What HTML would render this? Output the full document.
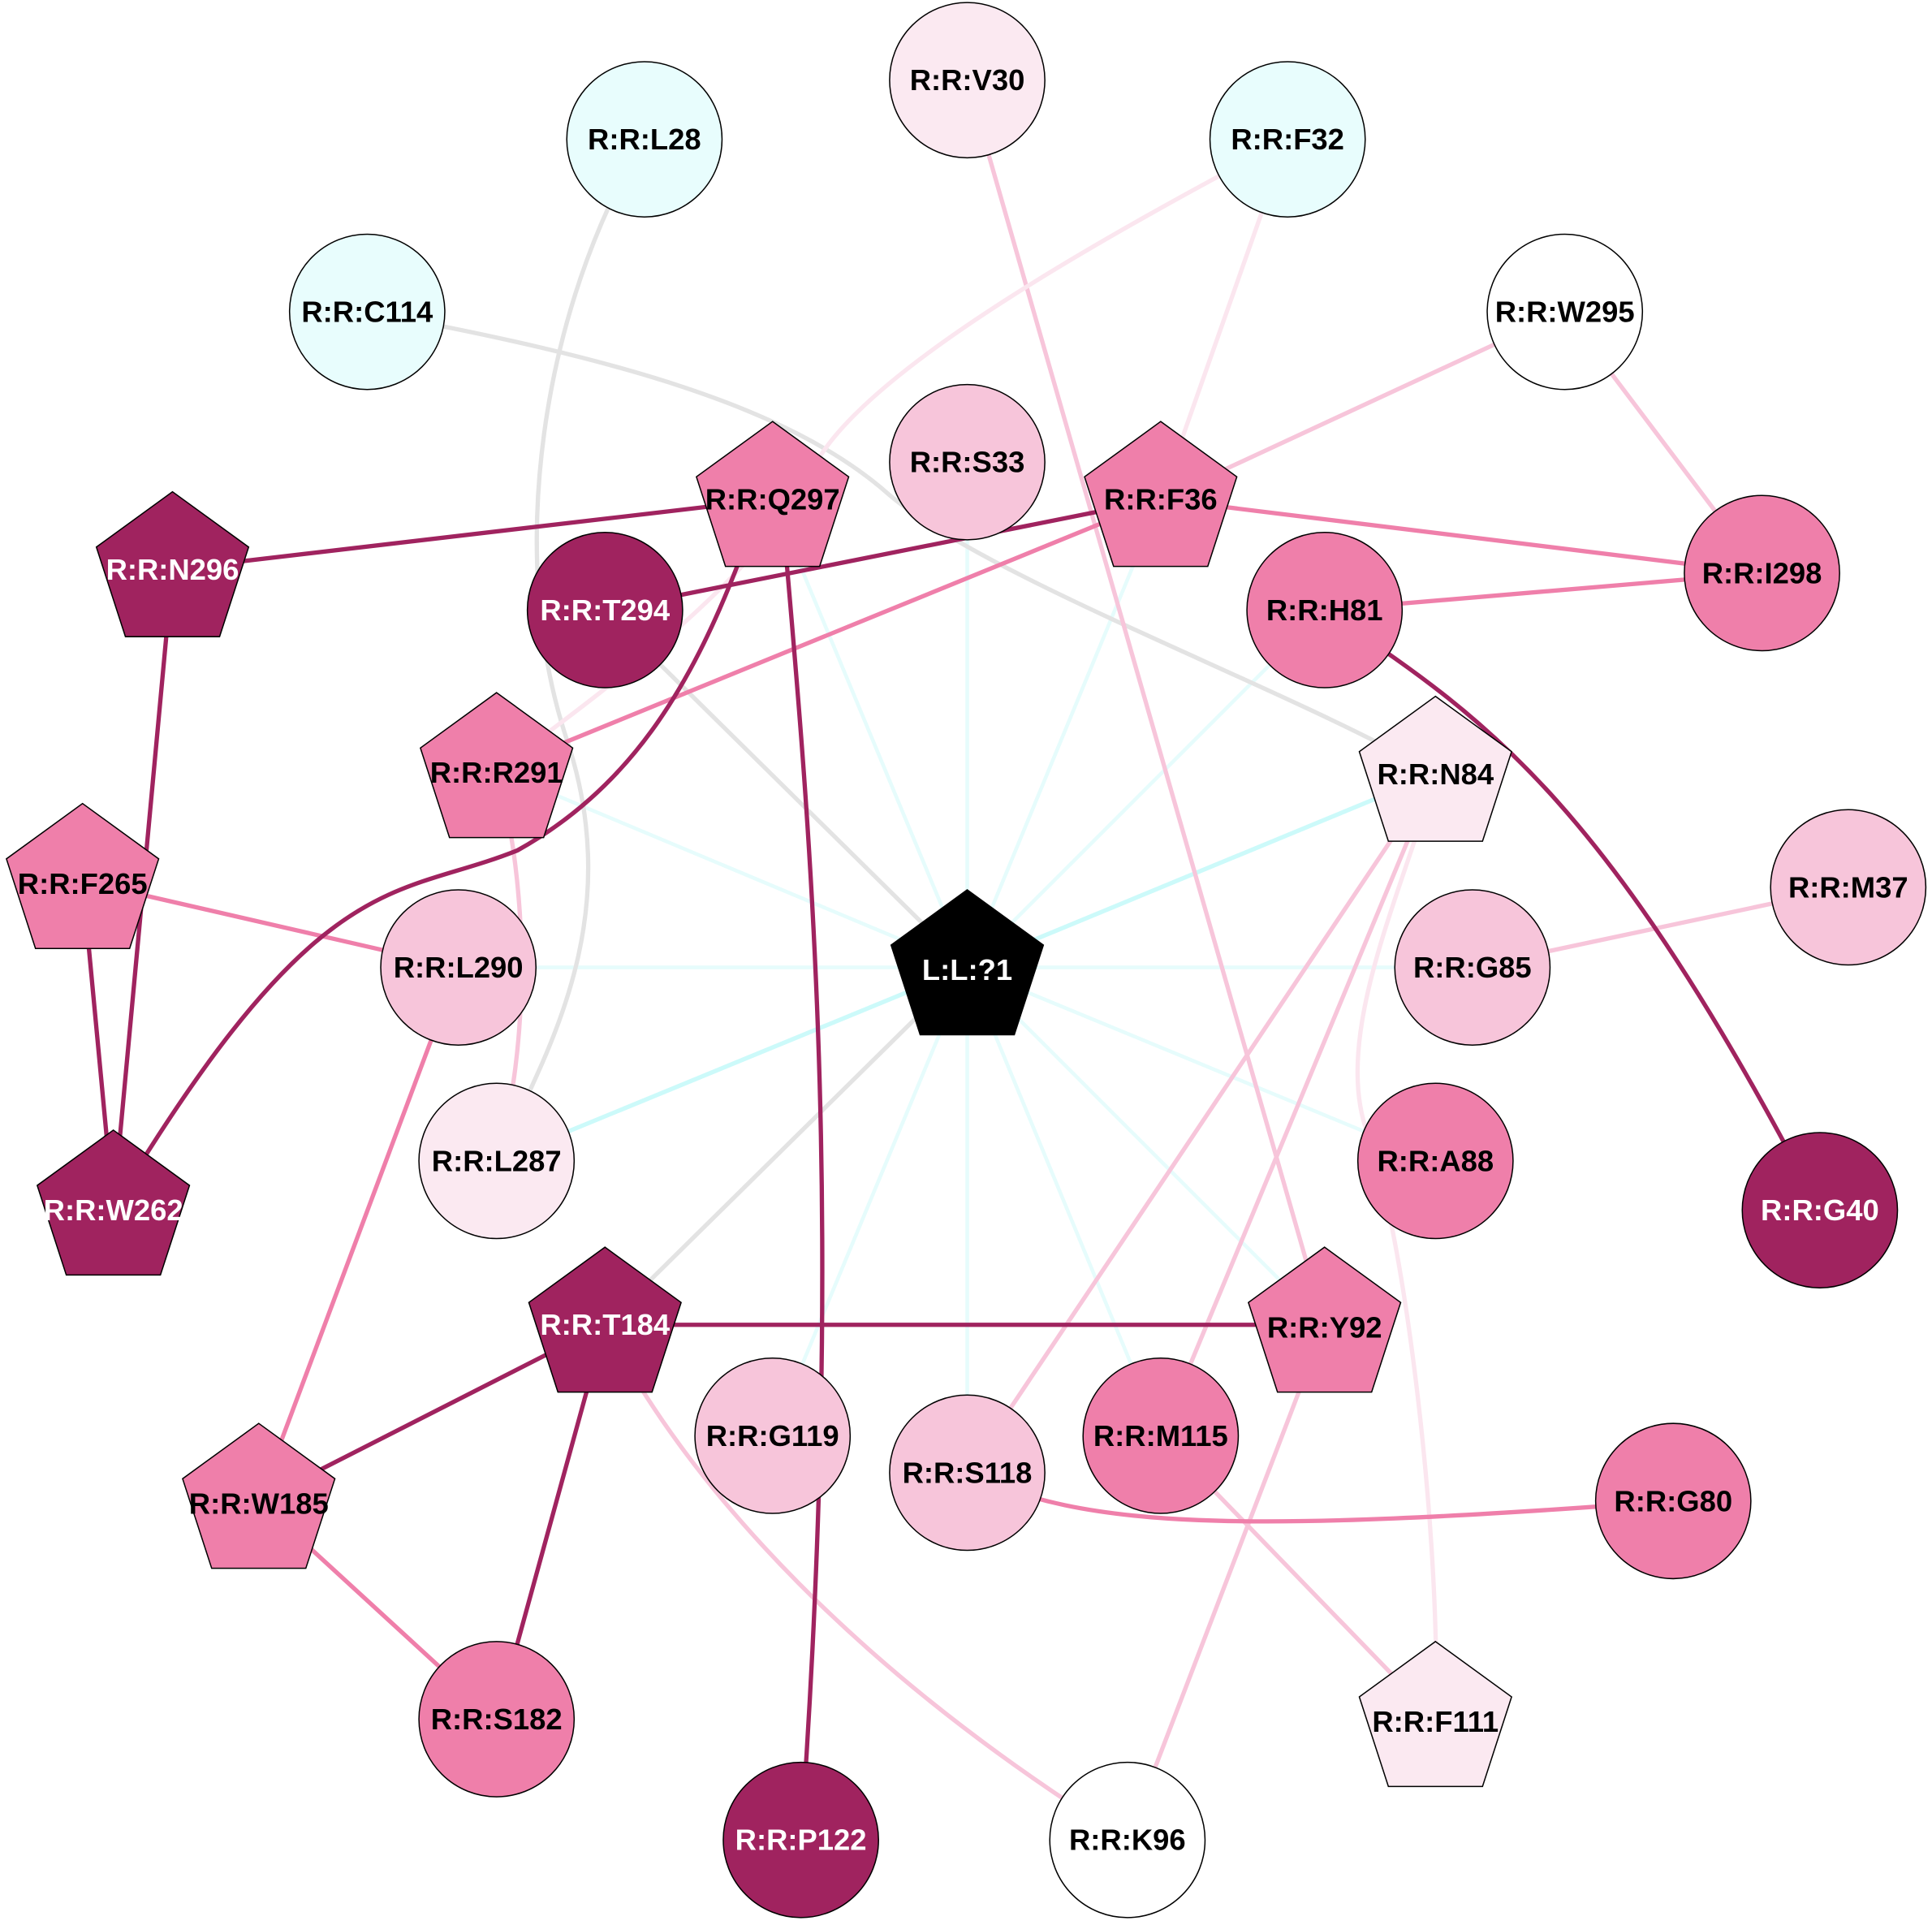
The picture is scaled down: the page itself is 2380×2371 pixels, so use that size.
<!DOCTYPE html>
<html><head><meta charset="utf-8"><style>
html,body{margin:0;padding:0;background:#fff;}
svg{display:block;}
text{font-family:"Liberation Sans",Arial,sans-serif;font-weight:bold;font-size:24px;text-anchor:middle;dominant-baseline:central;}
</style></head><body>
<svg width="2380" height="2371" viewBox="0 0 1568 1562" xmlns="http://www.w3.org/2000/svg">
<defs>
<polygon id="pg" points="0,-65 61.8,-20.1 38.2,52.6 -38.2,52.6 -61.8,-20.1"/>
</defs>
<g fill="none" stroke-width="3.5">
<g stroke="#e6fcfc" stroke-width="3">
<line x1="785" y1="785" x2="627" y2="405"/>
<line x1="785" y1="785" x2="942" y2="405"/>
<line x1="785" y1="785" x2="1075" y2="495"/>
<line x1="785" y1="785" x2="403" y2="625"/>
<line x1="785" y1="785" x2="372" y2="785"/>
<line x1="785" y1="785" x2="1195" y2="785"/>
<line x1="785" y1="785" x2="1165" y2="942"/>
<line x1="785" y1="785" x2="1075" y2="1075"/>
<line x1="785" y1="785" x2="627" y2="1165"/>
<line x1="785" y1="785" x2="785" y2="1195"/>
<line x1="785" y1="785" x2="942" y2="1165"/>
<line x1="785" y1="785" x2="785" y2="375"/>
</g>
<line x1="785" y1="785" x2="1165" y2="628" stroke="#ccfafa"/>
<line x1="785" y1="785" x2="403" y2="942" stroke="#ccfafa"/>
<line x1="785" y1="785" x2="491" y2="495" stroke="#e3e3e3"/>
<line x1="785" y1="785" x2="491" y2="1075" stroke="#e3e3e3"/>
<path d="M298,253 C500,290 640,330 720,400 S1050,560 1165,628" stroke="#e3e3e3"/>
<path d="M523,113 C440,250 410,450 460,600 S440,860 403,942" stroke="#e3e3e3"/>
<line x1="785" y1="65" x2="1075" y2="1075" stroke="#f7c5da"/>
<path d="M1045,113 C900,190 700,300 660,380 S520,540 403,625" stroke="#fbe6ef"/>
<line x1="1045" y1="113" x2="942" y2="405" stroke="#fbe6ef"/>
<line x1="1270" y1="253" x2="942" y2="405" stroke="#f7c5da"/>
<line x1="1270" y1="253" x2="1430" y2="465" stroke="#f7c5da"/>
<path d="M403,625 C430,720 430,850 403,942" stroke="#f7c5da"/>
<line x1="1165" y1="628" x2="785" y2="1195" stroke="#f7c5da"/>
<line x1="1165" y1="628" x2="942" y2="1165" stroke="#f7c5da"/>
<path d="M1165,628 C1140,720 1080,840 1110,920 S1170,1250 1165,1395" stroke="#fbe6ef"/>
<line x1="1500" y1="720" x2="1195" y2="785" stroke="#f7c5da"/>
<path d="M491,1075 C560,1210 700,1360 915,1493" stroke="#f7c5da"/>
<line x1="1075" y1="1075" x2="915" y2="1493" stroke="#f7c5da"/>
<line x1="942" y1="1165" x2="1165" y2="1395" stroke="#f7c5da"/>
<line x1="942" y1="405" x2="1430" y2="465" stroke="#ef7faa"/>
<line x1="1075" y1="495" x2="1430" y2="465" stroke="#ef7faa"/>
<line x1="942" y1="405" x2="403" y2="625" stroke="#ef7faa"/>
<line x1="67" y1="715" x2="372" y2="785" stroke="#ef7faa"/>
<line x1="372" y1="785" x2="210" y2="1218" stroke="#ef7faa"/>
<path d="M785,1195 C880,1240 1000,1245 1358,1218" stroke="#ef7faa"/>
<line x1="210" y1="1218" x2="403" y2="1395" stroke="#ef7faa"/>
<g stroke="#a0235f">
<path d="M1075,495 C1200,580 1300,640 1477,982"/>
<line x1="627" y1="405" x2="140" y2="462"/>
<line x1="942" y1="405" x2="491" y2="495"/>
<path d="M600,455 C560,560 510,640 420,690 C320,730 260,700 92,980"/>
<path d="M637,440 C660,700 685,1000 650,1493"/>
<line x1="140" y1="462" x2="92" y2="980"/>
<line x1="67" y1="715" x2="92" y2="980"/>
<line x1="491" y1="1075" x2="1075" y2="1075"/>
<line x1="491" y1="1075" x2="210" y2="1218"/>
<line x1="491" y1="1075" x2="403" y2="1395"/>
</g>
</g>
<g stroke="#000" stroke-width="1">
<circle cx="785" cy="65" r="63" fill="#fbe9f1"/>
<circle cx="523" cy="113" r="63" fill="#e8fdfd"/>
<circle cx="1045" cy="113" r="63" fill="#e8fdfd"/>
<circle cx="298" cy="253" r="63" fill="#e8fdfd"/>
<circle cx="1270" cy="253" r="63" fill="#fff"/>
<circle cx="785" cy="375" r="63" fill="#f7c5da"/>
<use href="#pg" x="627" y="407" fill="#ef7faa"/>
<use href="#pg" x="942" y="407" fill="#ef7faa"/>
<use href="#pg" x="140" y="464" fill="#a0235f"/>
<circle cx="491" cy="495" r="63" fill="#a0235f"/>
<circle cx="1075" cy="495" r="63" fill="#ef7faa"/>
<circle cx="1430" cy="465" r="63" fill="#ef7faa"/>
<use href="#pg" x="403" y="627" fill="#ef7faa"/>
<use href="#pg" x="1165" y="630" fill="#fbe9f1"/>
<use href="#pg" x="67" y="717" fill="#ef7faa"/>
<circle cx="1500" cy="720" r="63" fill="#f7c5da"/>
<circle cx="372" cy="785" r="63" fill="#f7c5da"/>
<use href="#pg" x="785" y="787" fill="#000"/>
<circle cx="1195" cy="785" r="63" fill="#f7c5da"/>
<circle cx="403" cy="942" r="63" fill="#fbe9f1"/>
<circle cx="1165" cy="942" r="63" fill="#ef7faa"/>
<use href="#pg" x="92" y="982" fill="#a0235f"/>
<circle cx="1477" cy="982" r="63" fill="#a0235f"/>
<use href="#pg" x="491" y="1077" fill="#a0235f"/>
<use href="#pg" x="1075" y="1077" fill="#ef7faa"/>
<circle cx="627" cy="1165" r="63" fill="#f7c5da"/>
<circle cx="785" cy="1195" r="63" fill="#f7c5da"/>
<circle cx="942" cy="1165" r="63" fill="#ef7faa"/>
<use href="#pg" x="210" y="1220" fill="#ef7faa"/>
<circle cx="1358" cy="1218" r="63" fill="#ef7faa"/>
<circle cx="403" cy="1395" r="63" fill="#ef7faa"/>
<use href="#pg" x="1165" y="1397" fill="#fbe9f1"/>
<circle cx="650" cy="1493" r="63" fill="#a0235f"/>
<circle cx="915" cy="1493" r="63" fill="#fff"/>
</g>
<g fill="#000">
<text x="785" y="65">R:R:V30</text>
<text x="523" y="113">R:R:L28</text>
<text x="1045" y="113">R:R:F32</text>
<text x="298" y="253">R:R:C114</text>
<text x="1270" y="253">R:R:W295</text>
<text x="785" y="375">R:R:S33</text>
<text x="627" y="405">R:R:Q297</text>
<text x="942" y="405">R:R:F36</text>
<text x="1075" y="495">R:R:H81</text>
<text x="1430" y="465">R:R:I298</text>
<text x="403" y="627">R:R:R291</text>
<text x="1165" y="628">R:R:N84</text>
<text x="67" y="717">R:R:F265</text>
<text x="1500" y="720">R:R:M37</text>
<text x="372" y="785">R:R:L290</text>
<text x="1195" y="785">R:R:G85</text>
<text x="403" y="942">R:R:L287</text>
<text x="1165" y="942">R:R:A88</text>
<text x="1075" y="1077">R:R:Y92</text>
<text x="627" y="1165">R:R:G119</text>
<text x="785" y="1195">R:R:S118</text>
<text x="942" y="1165">R:R:M115</text>
<text x="210" y="1220">R:R:W185</text>
<text x="1358" y="1218">R:R:G80</text>
<text x="403" y="1395">R:R:S182</text>
<text x="1165" y="1397">R:R:F111</text>
<text x="915" y="1493">R:R:K96</text>
</g>
<g fill="#fff">
<text x="140" y="462">R:R:N296</text>
<text x="491" y="495">R:R:T294</text>
<text x="785" y="787">L:L:?1</text>
<text x="92" y="982">R:R:W262</text>
<text x="1477" y="982">R:R:G40</text>
<text x="491" y="1075">R:R:T184</text>
<text x="650" y="1493">R:R:P122</text>
</g>
</svg>
</body></html>
